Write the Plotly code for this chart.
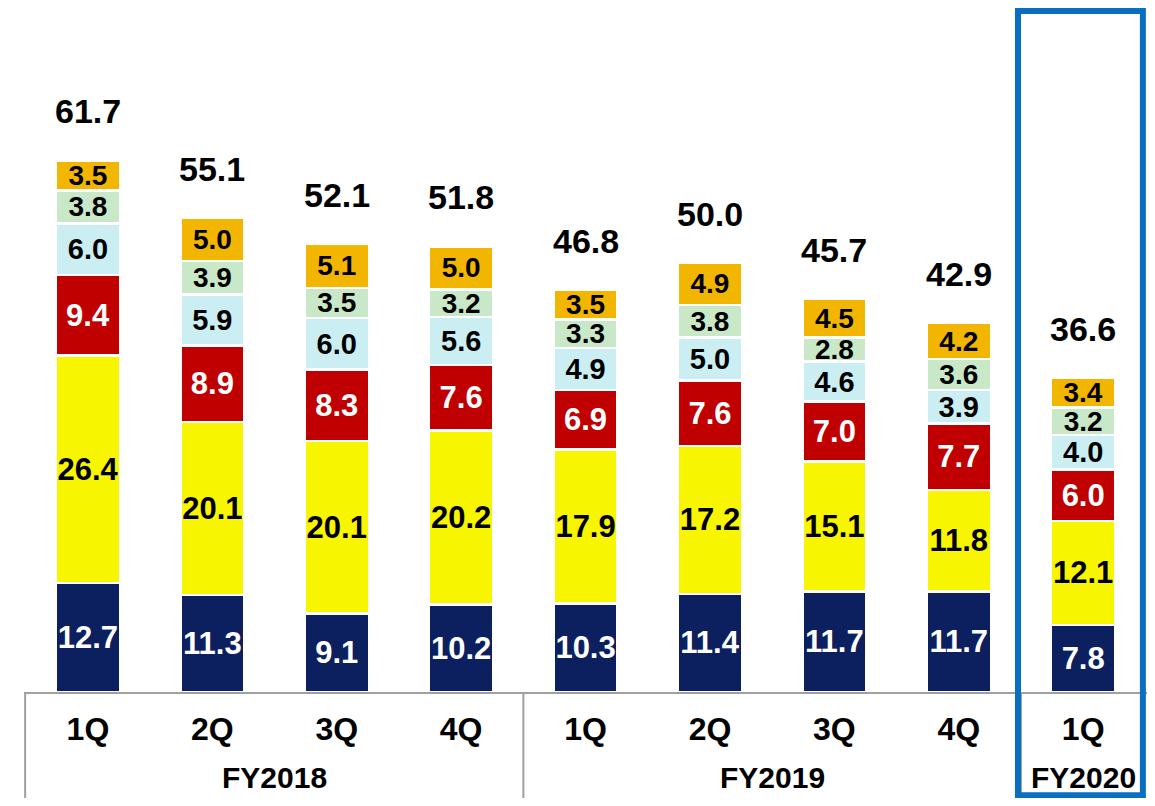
import plotly.graph_objects as go

# Data (bottom -> top segments)
quarters = ['1Q', '2Q', '3Q', '4Q', '1Q', '2Q', '3Q', '4Q', '1Q']
fiscal_years = ['FY2018', 'FY2019', 'FY2020']
fy_centers = [1.5, 5.5, 8]

navy = [12.7, 11.3, 9.1, 10.2, 10.3, 11.4, 11.7, 11.7, 7.8]
yellow = [26.4, 20.1, 20.1, 20.2, 17.9, 17.2, 15.1, 11.8, 12.1]
red = [9.4, 8.9, 8.3, 7.6, 6.9, 7.6, 7.0, 7.7, 6.0]
light_blue = [6.0, 5.9, 6.0, 5.6, 4.9, 5.0, 4.6, 3.9, 4.0]
light_green = [3.8, 3.9, 3.5, 3.2, 3.3, 3.8, 2.8, 3.6, 3.2]
gold = [3.5, 5.0, 5.1, 5.0, 3.5, 4.9, 4.5, 4.2, 3.4]
totals = [61.7, 55.1, 52.1, 51.8, 46.8, 50.0, 45.7, 42.9, 36.6]

x = list(range(len(quarters)))
stack_tops = [sum(v) for v in zip(navy, yellow, red, light_blue, light_green, gold)]

FONT = 'Liberation Sans, Arial, sans-serif'

segments = [
    (navy, '#0c1f5f', 'white', 31),
    (yellow, '#f7f500', 'black', 31),
    (red, '#c00000', 'white', 31),
    (light_blue, '#cbeef3', 'black', 29),
    (light_green, '#c8e8c8', 'black', 28),
    (gold, '#f2b600', 'black', 28),
]

fig = go.Figure()
for vals, color, txtcolor, size in segments:
    fig.add_trace(go.Bar(
        x=x, y=vals, width=0.515,
        marker=dict(color=color, line=dict(color='white', width=2.5)),
        text=[f'{v:.1f}' for v in vals],
        textposition='inside', insidetextanchor='middle',
        constraintext='none', textangle=0,
        textfont=dict(family=FONT, size=size, color=txtcolor, weight='bold'),
        hoverinfo='skip', showlegend=False,
    ))

# Totals above bars
for xi, top, tot in zip(x, stack_tops, totals):
    fig.add_annotation(x=xi, y=top, text=f'{tot:.1f}', showarrow=False,
                       yanchor='middle', yshift=49,
                       font=dict(family=FONT, size=34, color='black', weight='bold'))

# Fiscal year labels
for fy, cx in zip(fiscal_years, fy_centers):
    fig.add_annotation(x=cx, y=0, yref='paper', text=fy, showarrow=False,
                       yanchor='middle', yshift=-85,
                       font=dict(family=FONT, size=30, color='black', weight='bold'))

# Group separators
for sx in [-0.505, 3.5, 7.5]:
    fig.add_shape(type='line', x0=sx, x1=sx, xref='x', y0=0, y1=-0.16, yref='paper',
                  line=dict(color='#a0a0a0', width=2))

# Highlight box for latest quarter
fig.add_shape(type='rect', x0=7.476, x1=8.48, xref='x', y0=-0.151, y1=0.9956, yref='paper',
              line=dict(color='#0a6fc2', width=6))

fig.update_layout(
    width=1139, height=790,
    margin=dict(l=16, r=0, t=0, b=106),
    barmode='stack', plot_bgcolor='white', paper_bgcolor='white',
    xaxis=dict(range=[-0.514, 8.513], tickvals=x, ticktext=quarters,
               showline=True, linecolor='#a0a0a0', linewidth=2,
               showgrid=False, zeroline=False, ticks='', ticklabelstandoff=8,
               tickfont=dict(family=FONT, size=32, color='black', weight='bold'),
               fixedrange=True),
    yaxis=dict(range=[0, 79.53], visible=False, fixedrange=True),
)

fig.write_html("out.html")
